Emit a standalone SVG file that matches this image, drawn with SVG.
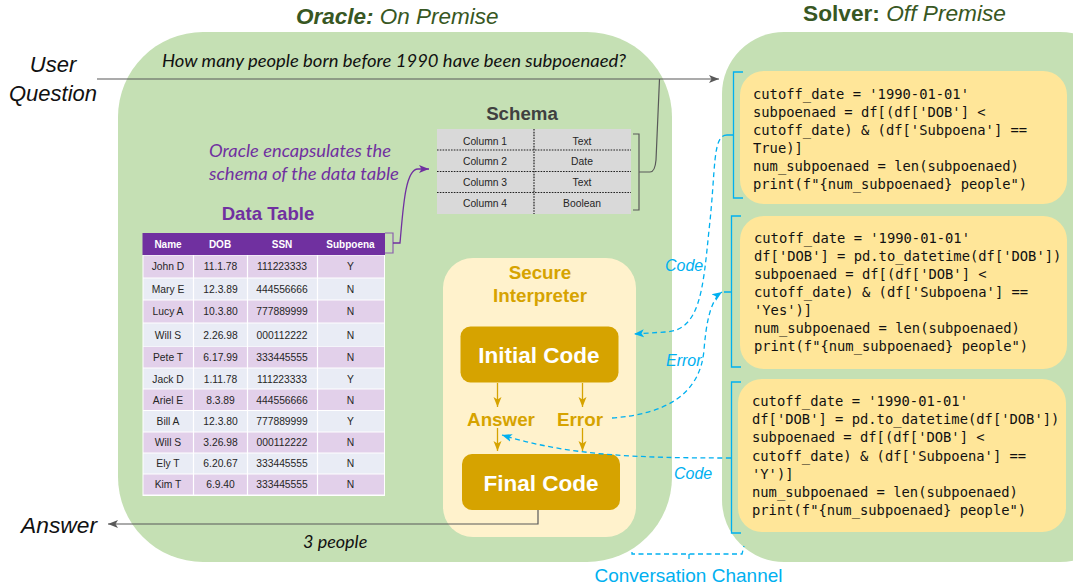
<svg xmlns="http://www.w3.org/2000/svg" width="1073" height="588" viewBox="0 0 1073 588">
<style>
.a{font-family:"Liberation Sans",Arial,sans-serif}
.l{font-family:Lato,"Open Sans",sans-serif;font-style:italic}
.m{font-family:"DejaVu Sans Mono","Liberation Mono",monospace;font-size:13.8px;fill:#111}
.c{text-anchor:middle}
.i{font-style:italic}
.b{font-weight:bold}
.t{font-size:10.300px;fill:#262626;text-anchor:middle;font-family:"Liberation Sans",Arial,sans-serif}
.h{font-size:10px;fill:#fff;font-weight:bold;text-anchor:middle;font-family:"Liberation Sans",Arial,sans-serif}
.g{font-size:18.800px;font-weight:bold;fill:#d6a300;text-anchor:middle;font-family:"Liberation Sans",Arial,sans-serif}
.blue{font-size:16px;font-style:italic;fill:#00b0f0;font-family:"Liberation Sans",Arial,sans-serif}
.k{fill:none;stroke:#595959;stroke-width:1.2}
.p{fill:none;stroke:#7030a0;stroke-width:1.3}
.pg{fill:none;stroke:#8b5fae;stroke-width:1.2}
.y{fill:none;stroke:#d6a300;stroke-width:1.3}
.s{fill:none;stroke:#00b0f0;stroke-width:1.3}
.d{fill:none;stroke:#00b0f0;stroke-width:1.3;stroke-dasharray:5 3.5}
.sd{stroke:#222;stroke-width:1.2;stroke-dasharray:1.6 1.2}
</style>
<defs>
<marker id="ak" markerUnits="userSpaceOnUse" markerWidth="12" markerHeight="10" refX="10" refY="5" orient="auto"><path d="M0 1 L10 5 L0 9 L2.5 5Z" fill="#595959"/></marker>
<marker id="ap" markerUnits="userSpaceOnUse" markerWidth="12" markerHeight="10" refX="10" refY="5" orient="auto"><path d="M0 1 L10 5 L0 9 L2.5 5Z" fill="#7030a0"/></marker>
<marker id="ay" markerUnits="userSpaceOnUse" markerWidth="12" markerHeight="10" refX="10" refY="5" orient="auto"><path d="M0 1 L10 5 L0 9 L2.5 5Z" fill="#d6a300"/></marker>
<marker id="ab" markerUnits="userSpaceOnUse" markerWidth="12" markerHeight="10" refX="10" refY="5" orient="auto"><path d="M0 1 L10 5 L0 9 L2.5 5Z" fill="#00b0f0"/></marker>
</defs>
<rect width="1073" height="588" fill="#fff"/>

<g id="oracle">
<rect x="118" y="32" width="554" height="530" rx="85" fill="#c5e0b4"/>
<text class="a i" x="296" y="24" font-size="22.500" fill="#385723"><tspan font-weight="bold">Oracle:</tspan> On Premise</text>
</g>
<g id="solver">
<rect x="722" y="32" width="400" height="530" rx="62" fill="#c5e0b4"/>
<text class="a" x="803" y="21" font-size="22.700" fill="#385723"><tspan font-weight="bold">Solver:</tspan><tspan class="i"> Off Premise</tspan></text>
</g>

<g id="user-question"><text class="a i c" font-size="22" fill="#111" x="53" y="72">User</text><text class="a i c" font-size="22" fill="#111" x="53" y="101">Question</text></g>
<g id="question-text"><text class="l" x="162" y="67" font-size="17.500" fill="#111" textLength="464" lengthAdjust="spacingAndGlyphs">How many people born before 1990 have been subpoenaed?</text></g>

<g id="schema">
<text class="a b c" x="522" y="120" font-size="18.700" fill="#404040">Schema</text>
<rect x="437" y="129" width="194" height="85" fill="#d9d9d9"/>
<path class="sd" d="M437 150H631M437 171.500H631M437 192.500H631M534 129V214"/>
<text class="t" x="485" y="144.500">Column 1</text><text class="t" x="582" y="144.500">Text</text>
<text class="t" x="485" y="165">Column 2</text><text class="t" x="582" y="165">Date</text>
<text class="t" x="485" y="186">Column 3</text><text class="t" x="582" y="186">Text</text>
<text class="t" x="485" y="207">Column 4</text><text class="t" x="582" y="207">Boolean</text>
</g>

<g id="schema-note"><text class="l" x="209" y="157" font-size="18" fill="#7030a0" textLength="182" lengthAdjust="spacingAndGlyphs">Oracle encapsulates the</text><text class="l" x="209" y="180" font-size="18" fill="#7030a0" textLength="190" lengthAdjust="spacingAndGlyphs">schema of the data table</text></g>

<g id="data-table">
<text class="a b c" x="268" y="220" font-size="18.600" fill="#7030a0">Data Table</text>
<rect x="142.500" y="233" width="242.500" height="22" fill="#7030a0"/>
<rect x="142.500" y="255" width="242.500" height="241" fill="#fff"/>
<g fill="#e2d0ea"><rect x="143.500" y="255.500" width="240.500" height="22"/><rect x="143.500" y="300.500" width="240.500" height="22"/><rect x="143.500" y="347" width="240.500" height="20.500"/><rect x="143.500" y="389.500" width="240.500" height="20.500"/><rect x="143.500" y="432.500" width="240.500" height="20"/><rect x="143.500" y="474.500" width="240.500" height="20"/></g>
<g fill="#e9ecf5"><rect x="143.500" y="278.500" width="240.500" height="21"/><rect x="143.500" y="323.500" width="240.500" height="23"/><rect x="143.500" y="368.500" width="240.500" height="20"/><rect x="143.500" y="411" width="240.500" height="20.500"/><rect x="143.500" y="453.500" width="240.500" height="20"/></g>
<path d="M193.500 255V496M247.500 255V496M317.500 255V496" stroke="#fff" stroke-width="1.200"/>
<text class="h" x="168" y="248">Name</text><text class="h" x="220" y="248">DOB</text><text class="h" x="282" y="248">SSN</text><text class="h" x="350.500" y="248">Subpoena</text>
<text class="t" x="168" y="270">John D</text><text class="t" x="220.500" y="270">11.1.78</text><text class="t" x="282" y="270">111223333</text><text class="t" x="350.500" y="270">Y</text>
<text class="t" x="168" y="293">Mary E</text><text class="t" x="220.500" y="293">12.3.89</text><text class="t" x="282" y="293">444556666</text><text class="t" x="350.500" y="293">N</text>
<text class="t" x="168" y="315">Lucy A</text><text class="t" x="220.500" y="315">10.3.80</text><text class="t" x="282" y="315">777889999</text><text class="t" x="350.500" y="315">N</text>
<text class="t" x="168" y="339">Will S</text><text class="t" x="220.500" y="339">2.26.98</text><text class="t" x="282" y="339">000112222</text><text class="t" x="350.500" y="339">N</text>
<text class="t" x="168" y="361">Pete T</text><text class="t" x="220.500" y="361">6.17.99</text><text class="t" x="282" y="361">333445555</text><text class="t" x="350.500" y="361">N</text>
<text class="t" x="168" y="383">Jack D</text><text class="t" x="220.500" y="383">1.11.78</text><text class="t" x="282" y="383">111223333</text><text class="t" x="350.500" y="383">Y</text>
<text class="t" x="168" y="404">Ariel E</text><text class="t" x="220.500" y="404">8.3.89</text><text class="t" x="282" y="404">444556666</text><text class="t" x="350.500" y="404">N</text>
<text class="t" x="168" y="425">Bill A</text><text class="t" x="220.500" y="425">12.3.80</text><text class="t" x="282" y="425">777889999</text><text class="t" x="350.500" y="425">Y</text>
<text class="t" x="168" y="446">Will S</text><text class="t" x="220.500" y="446">3.26.98</text><text class="t" x="282" y="446">000112222</text><text class="t" x="350.500" y="446">N</text>
<text class="t" x="168" y="467">Ely T</text><text class="t" x="220.500" y="467">6.20.67</text><text class="t" x="282" y="467">333445555</text><text class="t" x="350.500" y="467">N</text>
<text class="t" x="168" y="488">Kim T</text><text class="t" x="220.500" y="488">6.9.40</text><text class="t" x="282" y="488">333445555</text><text class="t" x="350.500" y="488">N</text>
</g>

<g id="secure-interpreter">
<rect x="443" y="258" width="193" height="279" rx="30" fill="#fff2cc"/>
<text class="g" x="540" y="279">Secure</text><text class="g" x="540" y="302">Interpreter</text>
</g>
<g id="initial-code"><rect x="460.500" y="326.500" width="158" height="56" rx="10" fill="#d6a300"/><text class="a b c" x="539" y="363" font-size="22.500" fill="#fff">Initial Code</text></g>
<g id="final-code"><rect x="462" y="454" width="158" height="56" rx="10" fill="#d6a300"/><text class="a b c" x="541" y="491" font-size="22.500" fill="#fff">Final Code</text></g>
<g id="answer-node"><text class="g" x="501" y="426">Answer</text></g>
<g id="error-node"><text class="g" x="580" y="426">Error</text></g>

<g id="code-1"><rect x="740" y="71" width="327" height="133" rx="24" fill="#ffe699"/>
<text class="m" x="753" y="99">cutoff_date = '1990-01-01'</text>
<text class="m" x="753" y="117">subpoenaed = df[(df['DOB'] &lt;</text>
<text class="m" x="753" y="135">cutoff_date) &amp; (df['Subpoena'] ==</text>
<text class="m" x="753" y="153">True)]</text>
<text class="m" x="753" y="171">num_subpoenaed = len(subpoenaed)</text>
<text class="m" x="753" y="189">print(f"{num_subpoenaed} people")</text></g>
<g id="code-2"><rect x="740" y="216" width="327" height="153" rx="24" fill="#ffe699"/>
<text class="m" x="754" y="243">cutoff_date = '1990-01-01'</text>
<text class="m" x="754" y="261">df['DOB'] = pd.to_datetime(df['DOB'])</text>
<text class="m" x="754" y="279">subpoenaed = df[(df['DOB'] &lt;</text>
<text class="m" x="754" y="297">cutoff_date) &amp; (df['Subpoena'] ==</text>
<text class="m" x="754" y="315">'Yes')]</text>
<text class="m" x="754" y="333">num_subpoenaed = len(subpoenaed)</text>
<text class="m" x="754" y="351">print(f"{num_subpoenaed} people")</text></g>
<g id="code-3"><rect x="738" y="379" width="328" height="153" rx="24" fill="#ffe699"/>
<text class="m" x="752" y="406">cutoff_date = '1990-01-01'</text>
<text class="m" x="752" y="424">df['DOB'] = pd.to_datetime(df['DOB'])</text>
<text class="m" x="752" y="442">subpoenaed = df[(df['DOB'] &lt;</text>
<text class="m" x="752" y="461">cutoff_date) &amp; (df['Subpoena'] ==</text>
<text class="m" x="752" y="479">'Y')]</text>
<text class="m" x="752" y="497">num_subpoenaed = len(subpoenaed)</text>
<text class="m" x="752" y="515">print(f"{num_subpoenaed} people")</text></g>

<g id="connectors">
<path class="k" d="M97 79H719" marker-end="url(#ak)"/>
<path class="k" d="M633 134H639V210H633M639 172H650Q655 172 656 160L659.500 79"/>
<path class="k" d="M538 510V524H108" marker-end="url(#ak)"/>
<path class="pg" d="M385 233H393V253H385"/>
<path class="p" d="M393 243H400C403 210 405 169 418 169H429" marker-end="url(#ap)"/>
<path class="y" d="M497.500 383V407" marker-end="url(#ay)"/>
<path class="y" d="M582.500 383V407" marker-end="url(#ay)"/>
<path class="y" d="M497.500 428V451" marker-end="url(#ay)"/>
<path class="y" d="M582.500 428V451" marker-end="url(#ay)"/>
<path class="s" d="M743 72H733.500V198H743M733.500 135H727"/>
<path class="s" d="M741 216H731.500V367H741M731.500 292H724"/>
<path class="s" d="M741 382H731.500V533H741"/>
<path class="d" d="M727 135C712 135 716 170 709 230C703 290 700 331 665 332L634 334" marker-end="url(#ab)"/>
<path class="d" d="M612 418C665 414 700 395 704 350C706 325 710 300 722 292" marker-end="url(#ab)"/>
<path class="d" d="M731 458C640 458 570 456 502 435" marker-end="url(#ab)"/>
<path class="d" d="M632 552V554H742L744 546M689 554V559" stroke-width="1.200"/>
</g>

<g id="connector-labels">
<text class="blue" x="665" y="271">Code</text>
<text class="blue" x="666" y="366">Error</text>
<text class="blue" x="674" y="479">Code</text>
<text class="a c" x="688.500" y="582" font-size="19" fill="#00b0f0">Conversation Channel</text>
</g>
<g id="answer-output"><text class="a i" x="21" y="533" font-size="22.800" fill="#111">Answer</text><text class="l" x="303" y="548" font-size="18" fill="#111">3 people</text></g>
</svg>
